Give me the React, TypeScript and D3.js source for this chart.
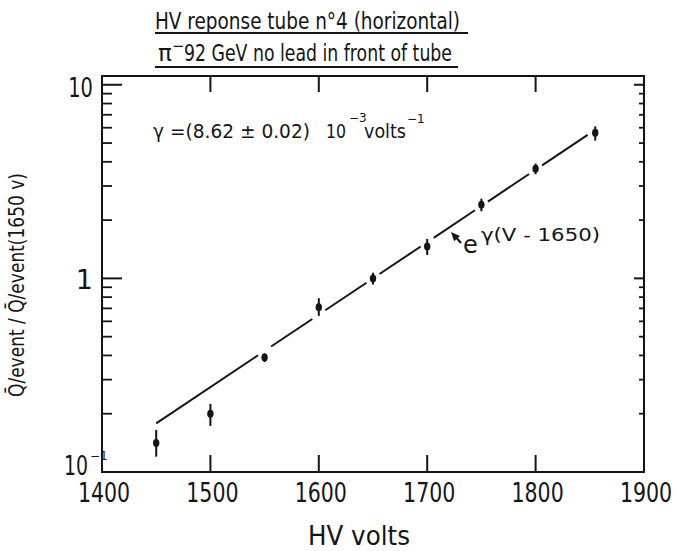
import React from "react";
import * as d3 from "d3";

// Measured charge ratio vs high voltage (normalised to 1650 V)
const volts = [1450, 1500, 1550, 1600, 1650, 1700, 1750, 1800, 1855];
const ratio = [0.141, 0.2, 0.39, 0.71, 1.0, 1.46, 2.4, 3.68, 5.65];
const errLow = [0.12, 0.173, 0.37, 0.64, 0.93, 1.32, 2.22, 3.45, 5.15];
const errHigh = [0.165, 0.225, 0.41, 0.79, 1.07, 1.6, 2.58, 3.92, 6.1];

const xTicks = [1400, 1500, 1600, 1700, 1800, 1900];
const xTickLabels = ["1400", "1500", "1600", "1700", "1800", "1900"];

// Exponential fit  Q/Q(1650) = exp(gamma (V - 1650))
const gamma = 8.62e-3;
const refVolt = 1650;
const fitFrom = 1450;
const fitTo = 1848;

const W = 682;
const H = 551;
const frame = { left: 102, right: 644, top: 76, bottom: 472 };

const x = d3.scaleLinear().domain([1400, 1900]).range([frame.left, frame.right]);
const y = d3.scaleLog().domain([0.1, 11.1]).range([frame.bottom, frame.top]);

const ink = "#151515";
const font = "'DejaVu Sans', Roboto, sans-serif";

const fit = (v: number) => Math.exp(gamma * (v - refVolt));

// fitted curve, broken around the measured points it passes through
function fitSegments(): [number, number][] {
  const segs: [number, number][] = [];
  let start = fitFrom;
  volts
    .filter((v, i) => i >= 2 && v < fitTo)
    .forEach((v) => {
      segs.push([start, v - 6]);
      start = v + 6;
    });
  segs.push([start, fitTo]);
  return segs;
}

const line = d3
  .line<number>()
  .x((v) => x(v))
  .y((v) => y(fit(v)));

// horizontally condensed lettering
function Narrow(props: {
  x: number;
  y: number;
  sx: number;
  size: number;
  anchor?: "start" | "middle" | "end";
  children: React.ReactNode;
}) {
  return (
    <g transform={`translate(${props.x},${props.y}) scale(${props.sx},1)`}>
      <text fontSize={props.size} textAnchor={props.anchor || "start"}>
        {props.children}
      </text>
    </g>
  );
}

export default function App() {
  const minorVals: number[] = [];
  [0.1, 1].forEach((d) => {
    for (let k = 2; k <= 9; k++) minorVals.push(d * k);
  });
  const majorVals = [1, 10];

  // arrow pointing at the fit line
  const tail = [461, 243];
  const tip = [451, 232];
  const ang = Math.atan2(tip[1] - tail[1], tip[0] - tail[0]);
  const hl = 9;
  const hw = 4;
  const head = [
    tip,
    [tip[0] - hl * Math.cos(ang) + hw * Math.sin(ang), tip[1] - hl * Math.sin(ang) - hw * Math.cos(ang)],
    [tip[0] - hl * Math.cos(ang) - hw * Math.sin(ang), tip[1] - hl * Math.sin(ang) + hw * Math.cos(ang)],
  ];

  return (
    <svg
      width={W}
      height={H}
      viewBox={`0 0 ${W} ${H}`}
      style={{ position: "absolute", left: 0, top: 0, background: "#fff" }}
      fontFamily={font}
      fill={ink}
    >
      <rect width={W} height={H} fill="#fff" />

      {/* title */}
      <text x={155} y={29} fontSize={23} textLength={305} lengthAdjust="spacingAndGlyphs">
        HV reponse tube n°4 (horizontal)
      </text>
      <line x1={155} x2={468} y1={33} y2={33} stroke={ink} strokeWidth={2} />
      <text x={158} y={61} fontSize={23}>
        π
      </text>
      <text x={172} y={51} fontSize={15}>
        −
      </text>
      <text x={184} y={61} fontSize={23} textLength={268} lengthAdjust="spacingAndGlyphs">
        92 GeV no lead in front of tube
      </text>
      <line x1={155} x2={458} y1={67} y2={67} stroke={ink} strokeWidth={2} />

      {/* frame */}
      <rect
        x={frame.left}
        y={frame.top}
        width={frame.right - frame.left}
        height={frame.bottom - frame.top}
        fill="none"
        stroke={ink}
        strokeWidth={2}
      />

      {/* x ticks top and bottom */}
      {xTicks.slice(1, -1).map((t) => (
        <g key={`xt${t}`} stroke={ink} strokeWidth={2}>
          <line x1={x(t)} x2={x(t)} y1={frame.bottom} y2={frame.bottom - 17} />
          <line x1={x(t)} x2={x(t)} y1={frame.top} y2={frame.top + 16} />
        </g>
      ))}
      {xTicks.map((t, i) => (
        <Narrow key={`xl${t}`} x={x(t) + 2} y={502} sx={0.79} size={26} anchor="middle">
          {xTickLabels[i]}
        </Narrow>
      ))}

      {/* y ticks */}
      {majorVals.map((v) => (
        <g key={`ym${v}`} stroke={ink} strokeWidth={2}>
          <line x1={frame.left} x2={frame.left + 20} y1={y(v)} y2={y(v)} />
          <line x1={frame.right} x2={frame.right - 10} y1={y(v)} y2={y(v)} />
        </g>
      ))}
      {minorVals.map((v) => (
        <g key={`yn${v}`} stroke={ink} strokeWidth={1.8}>
          <line x1={frame.left} x2={frame.left + 10} y1={y(v)} y2={y(v)} />
          <line x1={frame.right} x2={frame.right - 5} y1={y(v)} y2={y(v)} />
        </g>
      ))}
      <Narrow x={93} y={97} sx={0.72} size={27} anchor="end">
        10
      </Narrow>
      <text x={93} y={y(1) + 11} fontSize={27} textAnchor="end">
        1
      </text>
      <Narrow x={64} y={475} sx={0.7} size={27}>
        10
      </Narrow>
      <text x={90} y={460} fontSize={12}>
        −1
      </text>

      {/* axis titles */}
      <text x={308} y={545} fontSize={26} textLength={102} lengthAdjust="spacingAndGlyphs">
        HV  volts
      </text>
      <text
        transform="translate(24,397) rotate(-90)"
        fontSize={21}
        textLength={224}
        lengthAdjust="spacingAndGlyphs"
      >
        {"Q\u0304/event  /  Q\u0304/event(1650 v)"}
      </text>

      {/* fit result */}
      <text x={153} y={138} fontSize={19} textLength={157} lengthAdjust="spacingAndGlyphs">
        γ =(8.62 ± 0.02)
      </text>
      <text x={326} y={138} fontSize={19} textLength={20} lengthAdjust="spacingAndGlyphs">
        10
      </text>
      <text x={349} y={122} fontSize={12}>
        −3
      </text>
      <text x={364} y={138} fontSize={19} textLength={42} lengthAdjust="spacingAndGlyphs">
        volts
      </text>
      <text x={407} y={123} fontSize={12}>
        −1
      </text>

      {/* fitted exponential */}
      {fitSegments().map(([a, b], i) => (
        <path
          key={`f${i}`}
          d={line([a, b]) || ""}
          fill="none"
          stroke={ink}
          strokeWidth={2}
        />
      ))}

      {/* annotation */}
      <line x1={tail[0]} y1={tail[1]} x2={tip[0] + 3} y2={tip[1] + 3} stroke={ink} strokeWidth={2} />
      <polygon points={head.map((p) => p.join(",")).join(" ")} fill={ink} />
      <text x={463} y={253} fontSize={24}>
        e
      </text>
      <text x={481} y={241} fontSize={17} textLength={119} lengthAdjust="spacingAndGlyphs">
        γ(V - 1650)
      </text>

      {/* measurements */}
      {volts.map((v, i) => (
        <g key={`p${v}`}>
          <line
            x1={x(v)}
            x2={x(v)}
            y1={y(errLow[i])}
            y2={y(errHigh[i])}
            stroke={ink}
            strokeWidth={2}
          />
          <ellipse cx={x(v)} cy={y(ratio[i])} rx={3.2} ry={4} fill={ink} />
        </g>
      ))}
    </svg>
  );
}
